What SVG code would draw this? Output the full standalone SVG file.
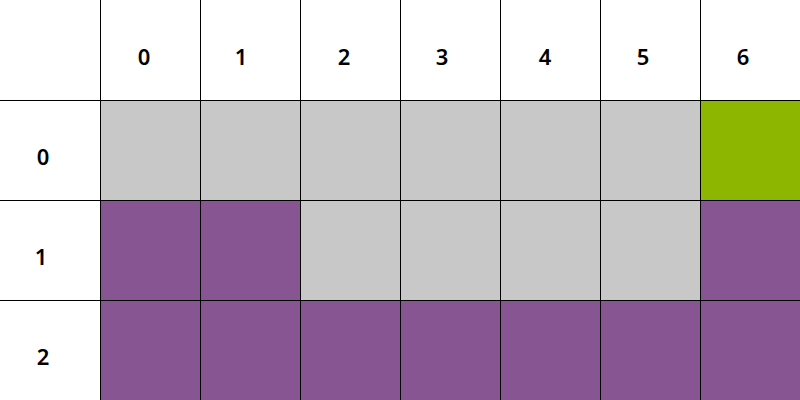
<svg xmlns="http://www.w3.org/2000/svg" width="800" height="400" viewBox="0 0 800 400">
<style>
.g{fill:#c8c8c8}
.p{fill:#875592}
.v{fill:#8db600}
.t{font-family:"Noto Sans","Liberation Sans",sans-serif;font-weight:600;font-size:22px;fill:#000;text-anchor:middle;dominant-baseline:central}
.ln{stroke:#000;stroke-width:1}
</style>
<rect width="800" height="400" fill="#fff"/>
<g id="cells">
<rect class="g" x="100" y="100" width="600" height="100"/>
<rect class="v" x="700" y="100" width="100" height="100"/>
<rect class="p" x="100" y="200" width="200" height="100"/>
<rect class="g" x="300" y="200" width="400" height="100"/>
<rect class="p" x="700" y="200" width="100" height="100"/>
<rect class="p" x="100" y="300" width="700" height="100"/>
</g>
<g id="grid" class="ln">
<line x1="100.5" y1="0" x2="100.5" y2="400"/>
<line x1="200.5" y1="0" x2="200.5" y2="400"/>
<line x1="300.5" y1="0" x2="300.5" y2="400"/>
<line x1="400.5" y1="0" x2="400.5" y2="400"/>
<line x1="500.5" y1="0" x2="500.5" y2="400"/>
<line x1="600.5" y1="0" x2="600.5" y2="400"/>
<line x1="700.5" y1="0" x2="700.5" y2="400"/>
<line x1="0" y1="100.5" x2="800" y2="100.5"/>
<line x1="0" y1="200.5" x2="800" y2="200.5"/>
<line x1="0" y1="300.5" x2="800" y2="300.5"/>
</g>
<g id="labels" class="t">
<text x="144" y="56">0</text>
<text x="241" y="56">1</text>
<text x="344" y="56">2</text>
<text x="442" y="56">3</text>
<text x="545" y="56">4</text>
<text x="643" y="56">5</text>
<text x="743" y="56">6</text>
<text x="43" y="156">0</text>
<text x="41" y="256">1</text>
<text x="43" y="356">2</text>
</g>
</svg>
